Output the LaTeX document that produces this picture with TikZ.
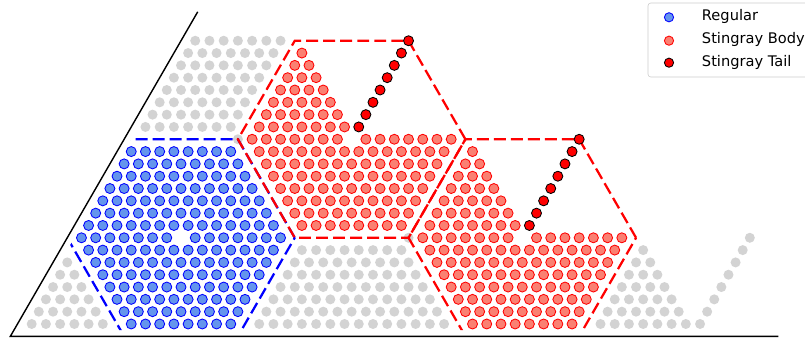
\documentclass[tikz,border=0pt]{standalone}
\usepackage{fontspec}
\setmainfont{DejaVu Sans}
\definecolor{cornflower}{HTML}{6495ED}
\definecolor{salmon}{HTML}{FA8072}
\definecolor{lightgrey}{HTML}{D3D3D3}

\begin{document}
\begin{tikzpicture}[
    greydot/.style={fill=lightgrey},
    regdot/.style={fill=cornflower, draw=blue, line width=0.6pt},
    bodydot/.style={fill=salmon, draw=red, line width=0.6pt},
    taildot/.style={fill=red, draw=black, line width=0.6pt},
    hexline/.style={line width=1.6pt, dash pattern=on 8.5pt off 3.6pt},
    legendtext/.style={anchor=base west, font={\fontsize{10.4}{12.5}\selectfont}}
]
    \useasboundingbox (0,0) rectangle (20.125,8.5);

    % Lattice
    \begin{scope}[shift={(0.7925,0.4)}, x={(0.3555cm,0)}, y={(0.17775cm,0.30787cm)}]
        % Walls
        \draw[line width=1pt] (-1,25.35) -- (-1,-1) -- (53,-1);

        \begin{scope}
            \clip (-0.5,-0.5) -- (47.5,-0.5) -- (47.5,23.5) -- (-0.5,23.5) -- cycle;

            % Grey regular cells
            \foreach \cx/\cy in {-1/-1, -1/23, 23/-1} {
                \foreach \dj in {-7,...,7} {
                    \pgfmathtruncatemacro{\lo}{max(-7,-7-\dj)}
                    \pgfmathtruncatemacro{\hi}{min(7,7-\dj)}
                    \foreach \di in {\lo,...,\hi}
                        \fill[greydot] (\cx+\di,\cy+\dj) circle[radius=0.125cm];
                }
            }
            \fill[greydot] (7,15) circle[radius=0.125cm];
            \fill[greydot] (23,7) circle[radius=0.125cm];

            % Cell borders
            \foreach \cx/\cy/\col in {7/7/blue, 15/15/red, 31/7/red}
                \draw[hexline, \col] (\cx+8,\cy) -- (\cx,\cy+8) -- (\cx-8,\cy+8)
                    -- (\cx-8,\cy) -- (\cx,\cy-8) -- (\cx+8,\cy-8) -- cycle;

            % Regular cell
            \foreach \dj in {-7,...,7} {
                \pgfmathtruncatemacro{\lo}{max(-7,-7-\dj)}
                \pgfmathtruncatemacro{\hi}{min(7,7-\dj)}
                \foreach \di in {\lo,...,\hi} {
                    \pgfmathtruncatemacro{\r}{abs(\di)+abs(\dj)}
                    \ifnum\r>0
                        \fill[regdot] (7+\di,7+\dj) circle[radius=0.125cm];
                    \fi
                }
            }

            % Stingrays
            \foreach \cx/\cy/\body/\tail in {15/15/bodydot/taildot, 31/7/bodydot/taildot, 47/-1/greydot/greydot} {
                \foreach \dj in {-7,...,7} {
                    \pgfmathtruncatemacro{\lo}{max(-7,-7-\dj)}
                    \pgfmathtruncatemacro{\hi}{\dj>0 ? -\dj : 7}
                    \foreach \di in {\lo,...,\hi} {
                        \pgfmathtruncatemacro{\r}{abs(\di)+abs(\dj)}
                        \ifnum\r>0
                            \fill[\body] (\cx+\di,\cy+\dj) circle[radius=0.125cm];
                        \fi
                    }
                }
                \foreach \k in {1,...,8}
                    \fill[\tail] (\cx,\cy+\k) circle[radius=0.125cm];
            }
        \end{scope}
    \end{scope}

    % Legend
    \draw[rounded corners=2pt, draw=black!20, fill=white, fill opacity=0.8] (16.2,8.425) rectangle (20.3,6.575);
    \fill[regdot] (16.725,8.0675) circle[radius=0.115cm];
    \node[legendtext] (regular) at (17.425,7.995) {Regular};
    \fill[bodydot] (16.725,7.4825) circle[radius=0.115cm];
    \node[legendtext] (body) at (17.425,7.4125) {Stingray Body};
    \fill[taildot] (16.725,6.9325) circle[radius=0.115cm];
    \node[legendtext] (tail) at (17.425,6.8375) {Stingray Tail};
\end{tikzpicture}
\end{document}
